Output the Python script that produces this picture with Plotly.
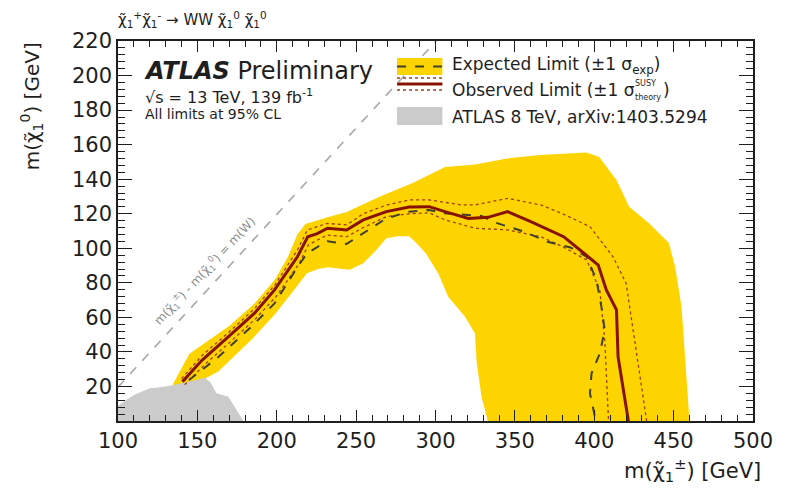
import plotly.graph_objects as go

# ---------------- data (GeV) ----------------
x_ticks = [100, 150, 200, 250, 300, 350, 400, 450, 500]
y_ticks = [20, 40, 60, 80, 100, 120, 140, 160, 180, 200, 220]

# ATLAS 8 TeV excluded region (grey)
grey_x = [100, 100, 110, 120, 128, 135, 149, 155, 158.5, 162, 169.5, 177.5, 179, 100]
grey_y = [0, 9, 15, 19, 19.7, 20.8, 23.7, 25, 22, 16, 14, 2.3, 0, 0]

# Expected +-1 sigma band: outer contour (left tip -> top -> bottom right)
band_outer_x = [133, 135, 145, 153, 170, 186, 199, 207, 213, 218, 226, 232, 244, 265, 286, 306,
                325, 345, 366, 395, 403, 414, 422, 435, 447, 451, 455, 457, 459, 460]
band_outer_y = [18, 22, 39, 44, 55, 68, 82, 95, 108, 114, 116.5, 118, 121, 130, 138, 147,
                148.5, 152, 154, 155.5, 153, 139.5, 124, 114, 103, 89, 66, 37, 10, 0]
# inner contour (left tip -> hump -> bottom)
band_inner_x = [141, 163, 184, 199, 211, 219, 226, 232, 246, 254.5, 262.7, 269, 276, 283.4, 289,
                294, 302, 308, 318.6, 324.8, 326, 329, 333]
band_inner_y = [18, 28.5, 47, 62, 76, 85.5, 88, 89, 87.5, 91.3, 99, 105.8, 107, 107, 102,
                97, 85, 72, 60.4, 50.8, 33.4, 14, 0]

# Observed limit
obs_x = [140.6, 153, 169.6, 186, 198.6, 213, 219.5, 225.5, 232, 244, 254.5, 269, 283.4, 296, 306,
         320.7, 333, 345.5, 360, 380.7, 391, 402.5, 407.6, 414, 415, 421.5]
obs_y = [22.8, 35.3, 48.8, 62.4, 75.9, 95.1, 106.7, 108.5, 111.6, 110.6, 116.4, 121.2, 123.9, 124.1, 121.2,
         117.3, 117.9, 121.2, 115.4, 106.7, 99, 90.3, 75.9, 64.3, 37.2, 0]
# Observed +1 sigma theory
obs_up_x = [140, 153, 170, 186, 199, 213, 219.3, 231.7, 244.1, 254.5, 269, 283.4, 295.8, 316.5, 324.8,
            345.5, 366.3, 380, 397.3, 411.8, 420.1, 424.2, 428.4, 432.5, 433]
obs_up_y = [24.5, 38, 51.5, 65, 79, 99, 110.6, 114.4, 113.5, 120, 125, 128, 128, 125.1, 125.1,
            128.9, 125.1, 120, 112.5, 95.1, 79.7, 54.6, 27.6, 2.5, 0]
# Observed -1 sigma theory
obs_dn_x = [142, 155, 171, 187, 200, 214, 220, 231.7, 244.1, 254.5, 269, 283.4, 296, 306.2, 324.8,
            345.5, 366.3, 380, 395.2, 403.5, 406.6, 407.6, 408.7, 409]
obs_dn_y = [21, 33, 46, 59.5, 72.5, 91, 102, 107.7, 106.7, 112, 118.3, 120, 120.5, 116.4, 111.6,
            110.6, 106.7, 101, 93.2, 75.9, 46.9, 27.6, 2.5, 0]

# Expected limit
exp_x = [144.7, 163.4, 184, 198.6, 213, 219, 226, 232, 244, 254.5, 269, 283.4, 296, 306, 320.7,
         329, 339.3, 356, 370.4, 385, 395.2, 401.4, 404.5, 406.6, 403.5, 398.3, 397.3, 400.4, 401]
exp_y = [23.7, 37.2, 54.6, 68.1, 89, 97, 101, 104, 102.5, 108.7, 117.3, 121.2, 122.2, 120.2, 119.3,
         118.7, 114.4, 109.6, 103.8, 100.5, 95.1, 81.6, 66.2, 52.7, 39.2, 27.6, 16, 2.5, 0]

# kinematic limit m(chi1+-) - m(chi10) = m(W)
diag_x = [100, 300.4]
diag_y = [19.6, 220]

# ---------------- style ----------------
W, H = 785, 491
L, R, T, B = 118, 23, 41, 70
PW, PH = W - L - R, H - T - B
FONT = "DejaVu Sans"
INK = "#1e1e1e"
YELLOW = "#FDD400"
GREY = "#CBCBCB"
RED = "#871200"
DOT = "#A04010"
DASH = "#40402e"
CHI = "\u03c7\u0303"


def px(x):
    return (x - L) / PW


def py(y):
    return (H - B - y) / PH


fig = go.Figure()
fig.add_trace(go.Scatter(x=diag_x, y=diag_y, mode="lines",
                         line=dict(color="#a8a8a8", width=1.6, dash="dash"), hoverinfo="skip"))
fig.add_trace(go.Scatter(x=band_outer_x + band_inner_x[::-1], y=band_outer_y + band_inner_y[::-1],
                         mode="lines", fill="toself", fillcolor=YELLOW, line=dict(width=0),
                         hoverinfo="skip"))
fig.add_trace(go.Scatter(x=grey_x, y=grey_y, mode="lines", fill="toself", fillcolor=GREY,
                         line=dict(width=0), hoverinfo="skip"))
for xs, ys in ((obs_up_x, obs_up_y), (obs_dn_x, obs_dn_y)):
    fig.add_trace(go.Scatter(x=xs, y=ys, mode="lines",
                             line=dict(color=DOT, width=1.3, dash="dot"), hoverinfo="skip"))
fig.add_trace(go.Scatter(x=exp_x, y=exp_y, mode="lines",
                         line=dict(color=DASH, width=2, dash="dash"), hoverinfo="skip"))
fig.add_trace(go.Scatter(x=obs_x, y=obs_y, mode="lines",
                         line=dict(color=RED, width=3), hoverinfo="skip"))

axis_common = dict(showline=True, linecolor=INK, linewidth=1.5, mirror="allticks",
                   ticks="inside", tickcolor=INK, tickwidth=1.2, showgrid=False, zeroline=False,
                   tickfont=dict(family=FONT, size=21, color=INK), fixedrange=True)
fig.update_xaxes(range=[100, 500], tickmode="array", tickvals=x_ticks, ticklen=11,
                 minor=dict(ticks="inside", tickmode="linear", tick0=100, dtick=10, ticklen=6,
                            tickcolor=INK, tickwidth=1), **axis_common)
fig.update_yaxes(range=[0, 220], tickmode="array", tickvals=y_ticks, ticklen=14,
                 minor=dict(ticks="inside", tickmode="linear", tick0=0, dtick=4, ticklen=7,
                            tickcolor=INK, tickwidth=1), **axis_common)

ann = []


def text(s, x, y, size, xanchor="left", yanchor="middle", color=INK, angle=0, pad=1):
    ann.append(dict(text=s, x=px(x), y=py(y), xref="paper", yref="paper", showarrow=False,
                    xanchor=xanchor, yanchor=yanchor, textangle=angle, borderpad=pad,
                    font=dict(family=FONT, size=size, color=color)))


# process label
text(f"{CHI}<sub>1</sub><sup>+</sup>{CHI}<sub>1</sub><sup>-</sup> \u2192 WW {CHI}<sub>1</sub><sup>0</sup> "
     f"{CHI}<sub>1</sub><sup>0</sup>", 116, 19, 15)
# axis titles
text(f"m({CHI}<sub>1</sub><sup>\u00b1</sup>) [GeV]", 771, 470, 21, xanchor="right", pad=0)
text(f"m({CHI}<sub>1</sub><sup>0</sup>) [GeV]", 30, 40, 20, xanchor="center", yanchor="top", angle=-90)
# ATLAS labels
text("<b><i>ATLAS</i></b> Preliminary", 142, 71, 24)
text("\u221as = 13 TeV, 139 fb<sup>-1</sup>", 143, 96, 16)
text("All limits at 95% CL", 143, 114, 14)
# diagonal label
text(f"m({CHI}<sub>1</sub><sup>\u00b1</sup>) - m({CHI}<sub>1</sub><sup>0</sup>) = m(W)", 206, 271, 12,
     xanchor="center", color="#8c8c8c", angle=-47)

# legend
shapes = []
sx0, sx1 = 401, 447
shapes.append(dict(type="rect", xref="paper", yref="paper", x0=px(sx0), x1=px(sx1), y0=py(58), y1=py(75),
                   fillcolor=YELLOW, line=dict(width=0)))
shapes.append(dict(type="line", xref="paper", yref="paper", x0=px(sx0), x1=px(sx1), y0=py(66.5), y1=py(66.5),
                   line=dict(color=DASH, width=2, dash="dash")))
for yy in (78, 90):
    shapes.append(dict(type="line", xref="paper", yref="paper", x0=px(sx0), x1=px(sx1), y0=py(yy), y1=py(yy),
                       line=dict(color=DOT, width=1.3, dash="dot")))
shapes.append(dict(type="line", xref="paper", yref="paper", x0=px(sx0), x1=px(sx1), y0=py(84), y1=py(84),
                   line=dict(color=RED, width=3)))
shapes.append(dict(type="rect", xref="paper", yref="paper", x0=px(sx0), x1=px(sx1), y0=py(107), y1=py(125),
                   fillcolor=GREY, line=dict(width=0)))

text("Expected Limit (\u00b11 \u03c3<sub>exp</sub>)", 456, 65.5, 17, pad=0)
text("Observed Limit (\u00b11 \u03c3", 456, 90, 17, pad=0)
text("SUSY", 641, 83, 8, pad=0)
text("theory", 641, 97, 8, pad=0)
text(")", 670, 90, 17, pad=0)
text("ATLAS 8 TeV, arXiv:1403.5294", 456, 117, 17, pad=0)

fig.update_layout(width=W, height=H, margin=dict(l=L, r=R, t=T, b=B), showlegend=False,
                  paper_bgcolor="white", plot_bgcolor="white", annotations=ann, shapes=shapes)
fig.write_html("out.html")
